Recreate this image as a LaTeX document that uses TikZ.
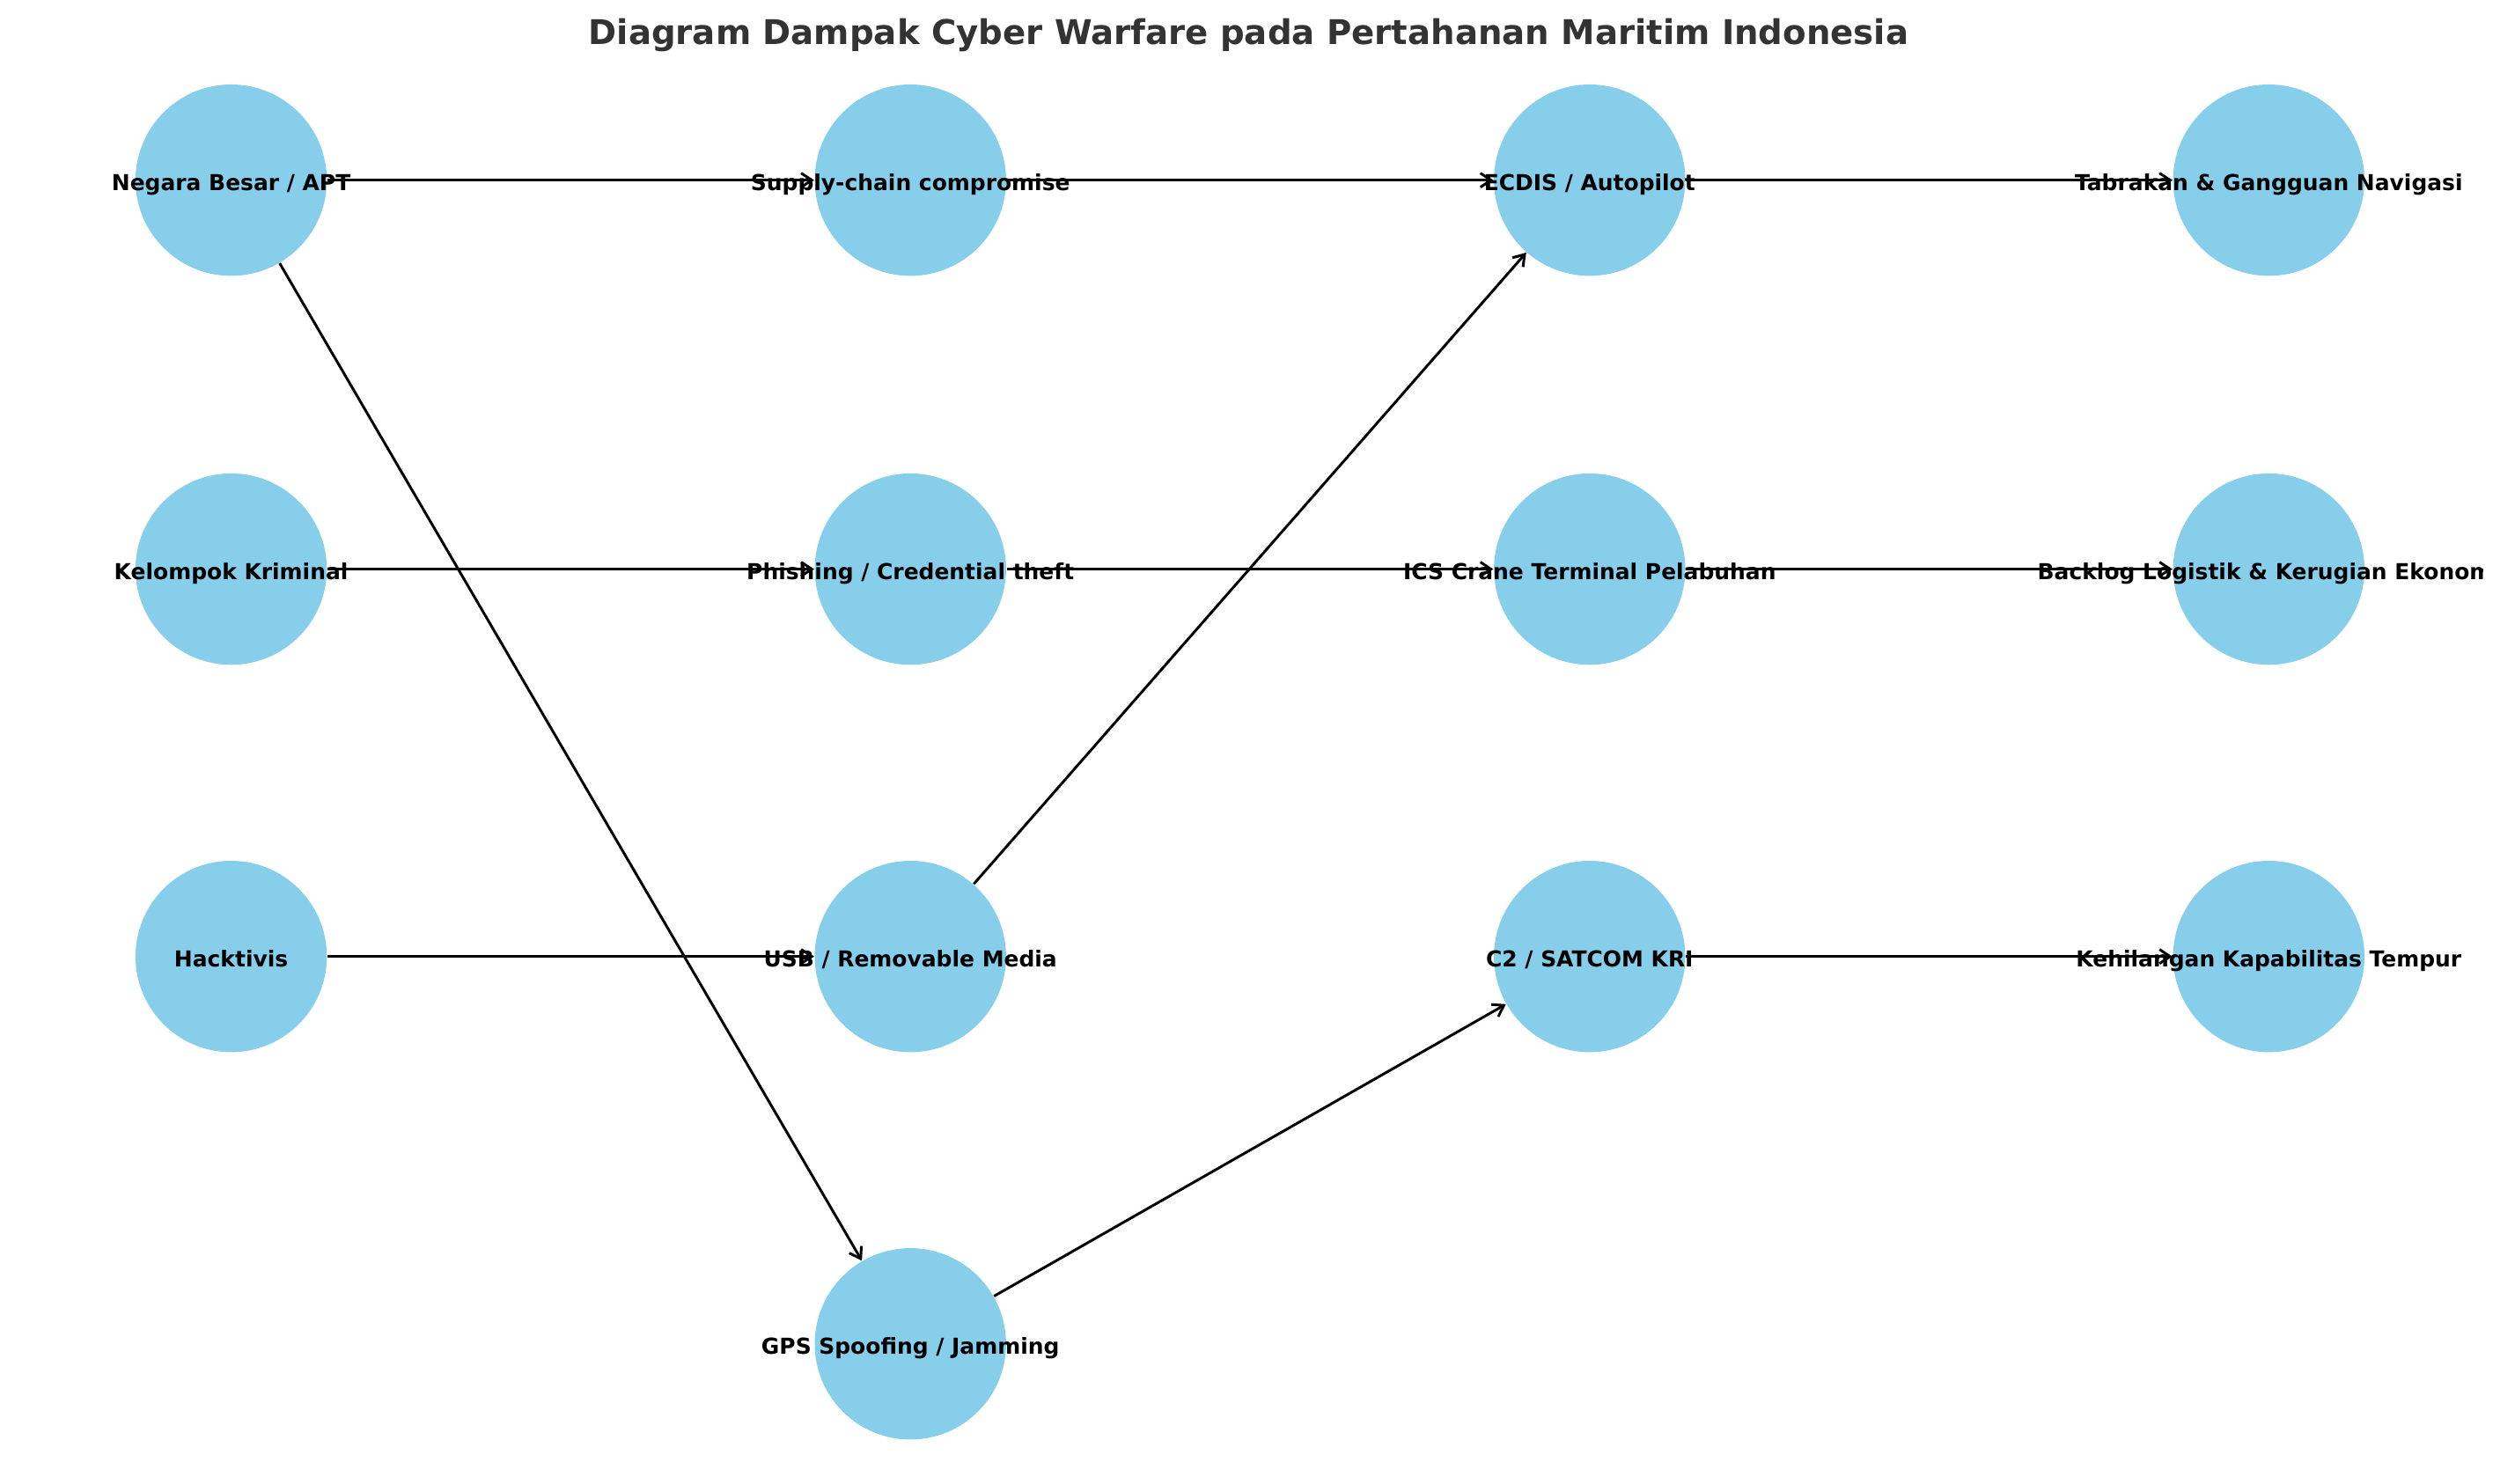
\documentclass[tikz,border=0pt]{standalone}
\usepackage{fontspec}
\setmainfont{DejaVu Sans}
\usepackage{xcolor}
\usetikzlibrary{arrows.meta, positioning, calc}

\definecolor{skyblue}{HTML}{87CEEB}
\definecolor{titlegray}{HTML}{333333}

\begin{document}
\begin{tikzpicture}[
    bubble/.style={circle, fill=skyblue, minimum size=2.174cm, inner sep=0pt},
    lbl/.style={font=\fontsize{7.1}{8}\selectfont\bfseries, text=black, inner sep=0pt, text height=0.72em, text depth=0.03em},
    edge/.style={line width=0.85pt, -{Straight Barb[length=1.2mm, width=1.6mm, line width=0.85pt]}}
]
\useasboundingbox (0,0) rectangle (28.4,16.86);
\node[font=\fontsize{11}{13}\selectfont\bfseries, text=titlegray] (title) at (14.185,16.46) {Diagram Dampak Cyber Warfare pada Pertahanan Maritim Indonesia};
% aktor
\node[bubble] (negara) at (2.626,14.813) {};
\node[bubble] (kriminal) at (2.626,10.394) {};
\node[bubble] (hacktivis) at (2.626,5.993) {};
% vektor serangan
\node[bubble] (supply) at (10.342,14.813) {};
\node[bubble] (phishing) at (10.342,10.394) {};
\node[bubble] (usb) at (10.342,5.993) {};
\node[bubble] (gps) at (10.342,1.592) {};
% sistem target
\node[bubble] (ecdis) at (18.058,14.813) {};
\node[bubble] (ics) at (18.058,10.394) {};
\node[bubble] (c2) at (18.058,5.993) {};
% dampak
\node[bubble] (tabrakan) at (25.773,14.813) {};
\node[bubble] (backlog) at (25.773,10.394) {};
\node[bubble] (kehilangan) at (25.773,5.993) {};

\foreach \a/\b in {negara/supply, supply/ecdis, ecdis/tabrakan, negara/gps,
                   kriminal/phishing, phishing/ics, ics/backlog,
                   hacktivis/usb, usb/ecdis, gps/c2, c2/kehilangan} {
    \draw[edge] (\a) -- (\b);
}

% labels are cut at the right edge of the plot area
\begin{scope}
\clip (0,0) rectangle (28.2,16.86);
\node[lbl] (t-negara) at (negara) {Negara Besar / APT};
\node[lbl] (t-kriminal) at (kriminal) {Kelompok Kriminal};
\node[lbl] (t-hacktivis) at (hacktivis) {Hacktivis};
\node[lbl] (t-supply) at (supply) {Supply-chain compromise};
\node[lbl] (t-phishing) at (phishing) {Phishing / Credential theft};
\node[lbl] (t-usb) at (usb) {USB / Removable Media};
\node[lbl] (t-gps) at (gps) {GPS Spoofing / Jamming};
\node[lbl] (t-ecdis) at (ecdis) {ECDIS / Autopilot};
\node[lbl] (t-ics) at (ics) {ICS Crane Terminal Pelabuhan};
\node[lbl] (t-c2) at (c2) {C2 / SATCOM KRI};
\node[lbl] (t-tabrakan) at (tabrakan) {Tabrakan \& Gangguan Navigasi};
\node[lbl] (t-backlog) at (backlog) {Backlog Logistik \& Kerugian Ekonomi};
\node[lbl] (t-kehilangan) at (kehilangan) {Kehilangan Kapabilitas Tempur};
\end{scope}
\end{tikzpicture}
\end{document}
